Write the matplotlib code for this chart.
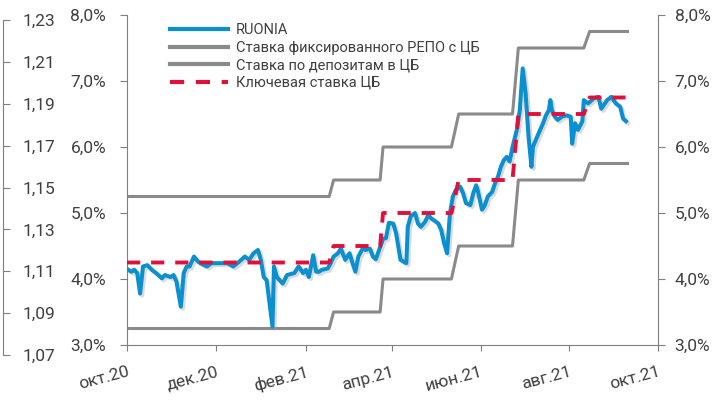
import numpy as np
import pandas as pd
import matplotlib
matplotlib.use('Agg')
import matplotlib.pyplot as plt
import matplotlib.patheffects as pe
from matplotlib.ticker import FuncFormatter
from matplotlib.lines import Line2D

plt.rcParams['font.family'] = ['Roboto', 'DejaVu Sans']

start = pd.Timestamp('2020-10-01')

# RUONIA, days after 01.10.2020 and value in %
ruonia_days = [1, 3, 5, 7, 9, 11, 14, 17, 20, 24, 26, 30, 32, 34, 37, 39, 41, 43, 46, 49,
               53, 55, 58, 64, 69, 73, 77, 81, 84, 87, 90, 92, 94, 96, 100, 101, 103, 107,
               110, 115, 118, 121, 123, 125, 128, 130, 132, 134, 138, 140, 142, 145, 147,
               150, 153, 155, 157, 159, 162, 164, 167, 169, 171, 172, 176, 178, 180, 183,
               185, 188, 192, 193, 195, 198, 200, 202, 205, 207, 209, 211, 214, 216, 218,
               220, 222, 224, 226, 229, 231, 233, 236, 238, 240, 241, 244, 246, 248, 251,
               253, 255, 257, 259, 261, 263, 265, 268, 270, 272, 274, 276, 278, 279, 282,
               284, 286, 288, 290, 291, 292, 294, 296, 299, 302, 305, 306, 308, 310, 313,
               314, 317, 321, 324, 326, 330, 333, 336, 339, 341, 343]
ruonia = [4.14, 4.11, 4.14, 4.09, 3.78, 4.19, 4.21, 4.14, 4.09, 4.01, 4.06, 4.03, 4.06, 3.96,
          3.58, 4.09, 4.19, 4.19, 4.34, 4.26, 4.21, 4.19, 4.24, 4.24, 4.24, 4.19, 4.26, 4.34,
          4.29, 4.39, 4.44, 4.29, 4.03, 3.98, 3.28, 4.19, 4.03, 3.93, 4.06, 4.09, 4.19, 4.09,
          4.14, 4.03, 4.36, 4.11, 4.11, 4.14, 4.16, 4.24, 4.34, 4.39, 4.46, 4.29, 4.39, 4.24,
          4.11, 4.34, 4.46, 4.44, 4.46, 4.34, 4.30, 4.36, 4.61, 4.62, 4.85, 4.84, 4.69, 4.29,
          4.24, 4.79, 4.95, 5.00, 4.84, 4.79, 4.87, 4.97, 4.92, 4.89, 4.84, 4.74, 4.54, 4.39,
          5.00, 5.25, 5.35, 5.40, 5.30, 5.15, 5.12, 5.30, 5.42, 5.35, 5.05, 5.12, 5.25, 5.32,
          5.45, 5.55, 5.70, 5.80, 5.85, 5.78, 6.00, 6.26, 6.56, 7.19, 6.81, 6.16, 5.70, 6.00,
          6.16, 6.26, 6.36, 6.48, 6.56, 6.71, 6.56, 6.46, 6.41, 6.46, 6.48, 6.46, 6.05, 6.36,
          6.26, 6.39, 6.71, 6.66, 6.74, 6.76, 6.58, 6.71, 6.76, 6.66, 6.61, 6.43, 6.39]

# rate changes: old level up to step_from, new level from step_to (days after 01.10.2020)
step_from = [139, 174, 223, 265, 314]
step_to = [142, 176, 228, 269, 318]
last_day = 344
key_rate = [4.25, 4.5, 5.0, 5.5, 6.5, 6.75]
repo_rate = [5.25, 5.5, 6.0, 6.5, 7.5, 7.75]
depo_rate = [3.25, 3.5, 4.0, 4.5, 5.5, 5.75]

tick_dates = ['2020-10-01', '2020-12-01', '2021-02-01', '2021-04-01',
              '2021-06-01', '2021-08-01', '2021-10-01']
tick_labels = ['окт.20', 'дек.20', 'фев.21', 'апр.21', 'июн.21', 'авг.21', 'окт.21']
pct_ticks = [3, 4, 5, 6, 7, 8]
side_ticks = [1.07, 1.09, 1.11, 1.13, 1.15, 1.17, 1.19, 1.21, 1.23]

labels = ['RUONIA', 'Ставка фиксированного РЕПО с ЦБ',
          'Ставка по депозитам в ЦБ', 'Ключевая ставка ЦБ']


def steps(levels):
    d = [0]
    v = [levels[0]]
    for i in range(len(step_from)):
        d += [step_from[i], step_to[i]]
        v += [levels[i], levels[i + 1]]
    d.append(last_day)
    v.append(levels[-1])
    return start + pd.to_timedelta(d, unit='D'), v


blue = '#0a8fd0'
gray = '#8a8a8a'
red = '#e0103c'
axc = '#7f7f7f'
txt = '#404040'
fs = 12.5

pct = FuncFormatter(lambda v, p: f'{v:.1f}%'.replace('.', ','))

fig = plt.figure(figsize=(7.16, 4.0), dpi=100)
ax = fig.add_axes([127 / 716, 55 / 400, 531 / 716, 330 / 400])

ax.plot(start + pd.to_timedelta(ruonia_days, unit='D'), ruonia, color=blue, lw=2.9,
        solid_joinstyle='round', zorder=3,
        path_effects=[pe.SimpleLineShadow(offset=(1.5, -1.5), shadow_color='#999999', alpha=0.35),
                      pe.Normal()])
x, y = steps(repo_rate)
ax.plot(x, y, color=gray, lw=2.2, zorder=2)
x, y = steps(depo_rate)
ax.plot(x, y, color=gray, lw=2.2, zorder=2)
x, y = steps(key_rate)
ax.plot(x, y, color=red, lw=2.8, dashes=(3.4, 2.8), zorder=4)

ax.set_xlim(start, pd.Timestamp('2021-10-01'))
ax.set_ylim(3, 8)
ax.set_yticks(pct_ticks)
ax.yaxis.set_major_formatter(pct)
ax.set_xticks(pd.to_datetime(tick_dates))
ax.set_xticklabels(tick_labels, rotation=15, ha='right', rotation_mode='anchor')

for s in ['top', 'right']:
    ax.spines[s].set_visible(False)
for s in ['left', 'bottom']:
    ax.spines[s].set_color(axc)
ax.tick_params(axis='y', length=5, color=axc, labelcolor=txt, labelsize=fs, pad=10)
ax.tick_params(axis='x', length=4, color=axc, labelcolor=txt, labelsize=fs, pad=10)

ax2 = ax.twinx()
ax2.set_ylim(3, 8)
ax2.set_yticks(pct_ticks)
ax2.yaxis.set_major_formatter(pct)
for s in ['top', 'left', 'bottom']:
    ax2.spines[s].set_visible(False)
ax2.spines['right'].set_color(axc)
ax2.tick_params(axis='y', length=5, color=axc, labelcolor=txt, labelsize=fs, pad=7)

# leftover axis on the far left
ax0 = fig.add_axes([2 / 716, 45 / 400, 1 / 716, 335 / 400])
ax0.patch.set_visible(False)
ax0.set_ylim(1.07, 1.23)
ax0.yaxis.tick_right()
ax0.set_yticks(side_ticks)
ax0.yaxis.set_major_formatter(FuncFormatter(lambda v, p: f'{v:.2f}'.replace('.', ',')))
ax0.set_xticks([])
for s in ['top', 'left', 'bottom']:
    ax0.spines[s].set_visible(False)
ax0.spines['right'].set_color(axc)
ax0.tick_params(axis='y', length=5, color=axc, labelcolor=txt, labelsize=fs, pad=9)

handles = [Line2D([], [], color=blue, lw=3),
           Line2D([], [], color=gray, lw=3),
           Line2D([], [], color=gray, lw=3),
           Line2D([], [], color=red, lw=3, dashes=(3.4, 2.8))]
fig.legend(handles, labels, loc='upper left', bbox_to_anchor=(170 / 716, 1 - 23 / 400),
           frameon=False, fontsize=10.5, handlelength=4.0, handletextpad=0.5,
           labelspacing=0.25, borderpad=0, borderaxespad=0, labelcolor=txt)

fig.savefig('out.png', dpi=100)
